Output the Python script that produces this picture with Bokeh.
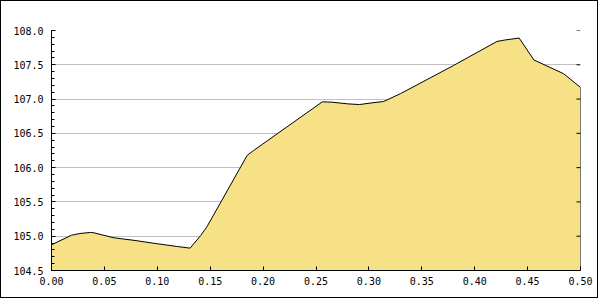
from bokeh.plotting import figure
from bokeh.models import Range1d, SingleIntervalTicker, PrintfTickFormatter, LinearAxis
from bokeh.embed import file_html
from bokeh.resources import INLINE

x_vals = [0.000, 0.019, 0.027, 0.037, 0.040, 0.059, 0.078, 0.100, 0.119, 0.131,
          0.141, 0.147, 0.185, 0.191, 0.256, 0.265, 0.280, 0.291, 0.303, 0.314,
          0.330, 0.380, 0.421, 0.428, 0.442, 0.456, 0.484, 0.500]
y_vals = [104.875, 105.015, 105.040, 105.055, 105.050, 104.977, 104.940, 104.890, 104.850, 104.826,
          105.010, 105.140, 106.180, 106.250, 106.960, 106.955, 106.930, 106.920, 106.945, 106.965,
          107.080, 107.490, 107.840, 107.860, 107.890, 107.570, 107.370, 107.170]
y_ticks = [104.5, 105.0, 105.5, 106.0, 106.5, 107.0, 107.5, 108.0]

x_min, x_max = 0.0, 0.5
y_min, y_max = 104.5, 108.0

FONT = "DejaVu Sans Mono"

p = figure(width=598, height=298, output_backend="svg", toolbar_location=None,
           x_range=Range1d(x_min, x_max), y_range=Range1d(y_min, y_max),
           x_axis_location=None, y_axis_location=None,
           min_border_left=50, min_border_right=19, min_border_top=29, min_border_bottom=29)
p.styles = {"border": "1px solid black"}
p.outline_line_color = None
p.background_fill_color = "white"
p.border_fill_color = "white"

xt = SingleIntervalTicker(interval=0.05, num_minor_ticks=0)
yt = SingleIntervalTicker(interval=0.5, num_minor_ticks=5)

xa = LinearAxis(ticker=xt, formatter=PrintfTickFormatter(format="%.2f"))
ya = LinearAxis(ticker=yt, formatter=PrintfTickFormatter(format="%.1f"))

for ax in (xa, ya):
    ax.major_tick_in = 4
    ax.major_tick_out = 0
    ax.minor_tick_in = 3
    ax.minor_tick_out = 0
    ax.axis_line_color = "black"
    ax.major_tick_line_color = "black"
    ax.minor_tick_line_color = "black"
    ax.major_label_text_font = FONT
    ax.major_label_text_font_size = "10px"
    ax.major_label_text_color = "black"

xa.major_label_standoff = 6
ya.major_label_standoff = 8

p.add_layout(xa, "below")
p.add_layout(ya, "left")

p.xgrid.visible = False
p.ygrid.ticker = yt
p.ygrid.grid_line_color = "#C0C0C0"
p.ygrid.grid_line_width = 1

px = x_vals + [x_vals[-1], x_vals[0]]
py = y_vals + [y_min, y_min]
p.patch(px, py, fill_color="#F6E186", line_color="black", line_width=1)

# small inward ticks on the right edge
tick_len = (x_max - x_min) * 4 / 529
p.segment(x0=[x_max] * len(y_ticks), y0=y_ticks,
          x1=[x_max - tick_len] * len(y_ticks), y1=y_ticks,
          line_color="black", line_width=1)

open("out.html", "w").write(file_html(p, INLINE))
